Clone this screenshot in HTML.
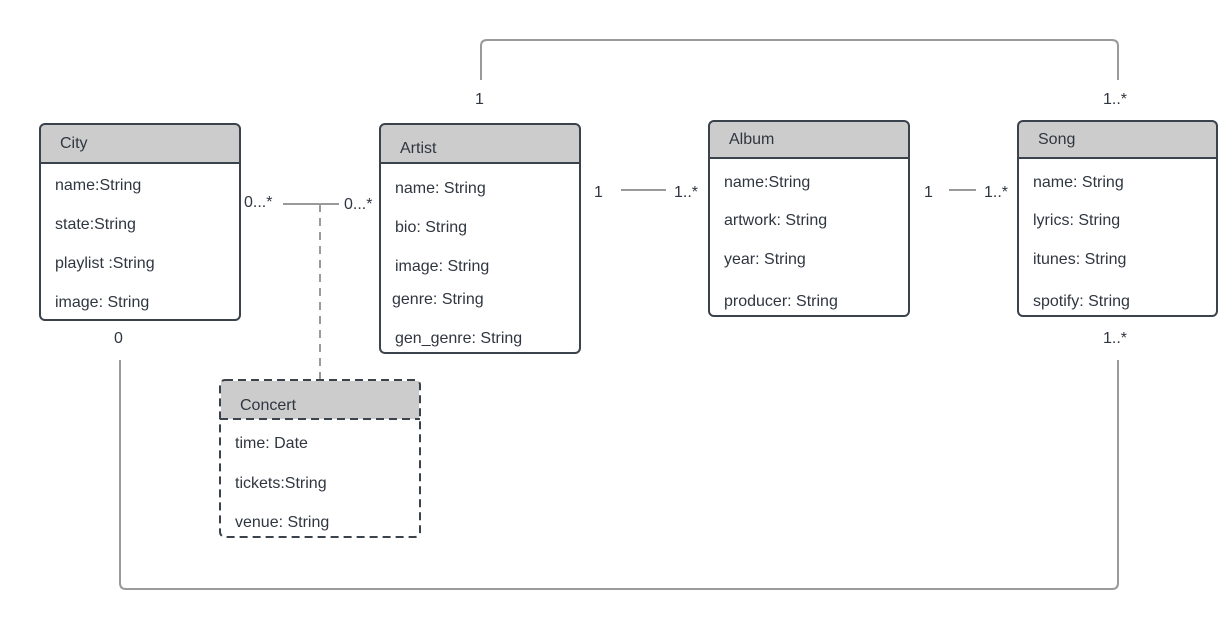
<!DOCTYPE html>
<html><head><style>
html,body{margin:0;padding:0;background:#fff;}
svg{display:block;}
text{font-family:"Liberation Sans",sans-serif;font-size:16px;fill:#2f3640;}
</style></head><body>
<svg width="1218" height="630" viewBox="0 0 1218 630">
<g fill="none" stroke="#9a9a9a" stroke-width="2">
<path d="M481 80 V46 Q481 40 487 40 H1112 Q1118 40 1118 46 V80"/>
<path d="M120 360 V583 Q120 589 126 589 H1112 Q1118 589 1118 583 V360"/>
<line x1="283" y1="204" x2="339" y2="204"/>
<line x1="320" y1="204" x2="320" y2="380" stroke-dasharray="8,6"/>
<line x1="621" y1="190" x2="666" y2="190"/>
<line x1="949" y1="190" x2="976" y2="190"/>
</g>
<!-- City -->
<rect x="41" y="125" width="198" height="38" fill="#cccccc"/>
<rect x="40" y="124" width="200" height="196" rx="5" fill="none" stroke="#3a424c" stroke-width="2"/>
<line x1="40" y1="163" x2="240" y2="163" stroke="#3a424c" stroke-width="2"/>
<text x="60" y="148">City</text>
<text x="55" y="190">name:String</text>
<text x="55" y="229">state:String</text>
<text x="55" y="268">playlist :String</text>
<text x="55" y="307">image: String</text>
<!-- Artist -->
<rect x="381" y="125" width="198" height="38" fill="#cccccc"/>
<rect x="380" y="124" width="200" height="229" rx="5" fill="none" stroke="#3a424c" stroke-width="2"/>
<line x1="380" y1="163" x2="580" y2="163" stroke="#3a424c" stroke-width="2"/>
<text x="400" y="153">Artist</text>
<text x="395" y="193">name: String</text>
<text x="395" y="232">bio: String</text>
<text x="395" y="271">image: String</text>
<text x="392" y="304">genre: String</text>
<text x="395" y="343">gen_genre: String</text>
<!-- Album -->
<rect x="710" y="122" width="198" height="36" fill="#cccccc"/>
<rect x="709" y="121" width="200" height="195" rx="5" fill="none" stroke="#3a424c" stroke-width="2"/>
<line x1="709" y1="158" x2="909" y2="158" stroke="#3a424c" stroke-width="2"/>
<text x="729" y="144">Album</text>
<text x="724" y="187">name:String</text>
<text x="724" y="225">artwork: String</text>
<text x="724" y="264">year: String</text>
<text x="724" y="306">producer: String</text>
<!-- Song -->
<rect x="1019" y="122" width="198" height="36" fill="#cccccc"/>
<rect x="1018" y="121" width="199" height="195" rx="5" fill="none" stroke="#3a424c" stroke-width="2"/>
<line x1="1018" y1="158" x2="1217" y2="158" stroke="#3a424c" stroke-width="2"/>
<text x="1038" y="144">Song</text>
<text x="1033" y="187">name: String</text>
<text x="1033" y="225">lyrics: String</text>
<text x="1033" y="264">itunes: String</text>
<text x="1033" y="306">spotify: String</text>
<!-- Concert -->
<rect x="221" y="381" width="198" height="38" fill="#cccccc"/>
<rect x="220" y="380" width="200" height="157" rx="5" fill="none" stroke="#3a424c" stroke-width="2" stroke-dasharray="8,5"/>
<line x1="220" y1="419" x2="420" y2="419" stroke="#3a424c" stroke-width="2" stroke-dasharray="8,5"/>
<text x="240" y="410">Concert</text>
<text x="235" y="448">time: Date</text>
<text x="235" y="488">tickets:String</text>
<text x="235" y="527">venue: String</text>
<!-- multiplicities -->
<text x="244" y="207">0...*</text>
<text x="344" y="209">0...*</text>
<text x="594" y="197">1</text>
<text x="674" y="197">1..*</text>
<text x="924" y="197">1</text>
<text x="984" y="197">1..*</text>
<text x="475" y="104">1</text>
<text x="1103" y="104">1..*</text>
<text x="114" y="343">0</text>
<text x="1103" y="343">1..*</text>
</svg>
</body></html>
